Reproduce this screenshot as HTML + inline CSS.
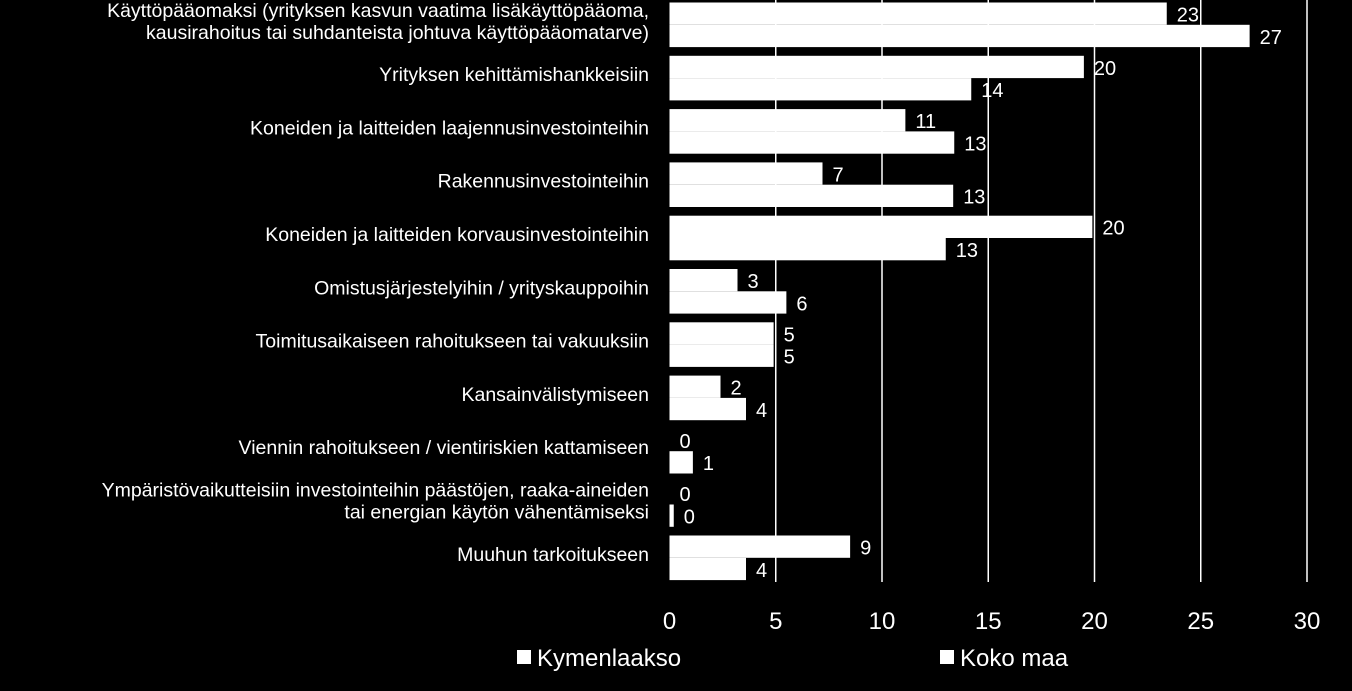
<!DOCTYPE html>
<html><head><meta charset="utf-8"><style>
html,body{margin:0;padding:0;background:#000;}
svg{display:block;font-family:"Liberation Sans",sans-serif;}
</style></head><body>
<svg id="chart" width="1352" height="691"></svg>
<script>
const categories=["Käyttöpääomaksi (yrityksen kasvun vaatima lisäkäyttöpääoma,|kausirahoitus tai suhdanteista johtuva käyttöpääomatarve)","Yrityksen kehittämishankkeisiin","Koneiden ja laitteiden laajennusinvestointeihin","Rakennusinvestointeihin","Koneiden ja laitteiden korvausinvestointeihin","Omistusjärjestelyihin / yrityskauppoihin","Toimitusaikaiseen rahoitukseen tai vakuuksiin","Kansainvälistymiseen","Viennin rahoitukseen / vientiriskien kattamiseen","Ympäristövaikutteisiin investointeihin päästöjen, raaka-aineiden|tai energian käytön vähentämiseksi","Muuhun tarkoitukseen"];
const kymenlaakso=[23.4,19.5,11.1,7.2,19.9,3.2,4.9,2.4,0,0,8.5];
const kokoMaa=[27.3,14.2,13.4,13.35,13.0,5.5,4.9,3.6,1.1,0.2,3.6];
const ticks=[0,5,10,15,20,25,30];
const NS="http://www.w3.org/2000/svg";
const svg=document.getElementById('chart');
const x0=669.5,x1=1307,plotTop=-2,band=53.3,maxV=30;
const xs=v=>x0+(x1-x0)*v/maxV;
function mk(t,a){const e=document.createElementNS(NS,t);for(const k in a)e.setAttribute(k,a[k]);svg.appendChild(e);return e;}
ticks.forEach(t=>{if(t>0){const l=mk('line',{x1:xs(t),x2:xs(t),y1:0,y2:582,stroke:'#fff','stroke-width':1.5});

}
const tx=mk('text',{x:xs(t),y:629,fill:'#fff','font-size':24,'text-anchor':'middle'});tx.textContent=t;

});
categories.forEach((c,i)=>{
 const y=plotTop+i*band+4.5,h=22.3;
 const b1=mk('rect',{x:x0,y:y,width:xs(kymenlaakso[i])-x0,height:h,fill:'#fff'});
 
 
 const b2=mk('rect',{x:x0,y:y+h,width:xs(kokoMaa[i])-x0,height:h,fill:'#fff'});
 
 
 const v1=mk('text',{x:xs(kymenlaakso[i])+10,y:y+19,fill:'#fff','font-size':20});v1.textContent=Math.round(kymenlaakso[i]);
 
 
 const v2=mk('text',{x:xs(kokoMaa[i])+10,y:y+h+19,fill:'#fff','font-size':20});v2.textContent=Math.round(kokoMaa[i]);
 
 
 const lines=c.split('|');
 const cy=y+h+7-(lines.length-1)*11;
 lines.forEach((ln,j)=>{const t=mk('text',{x:649,y:cy+j*22-4,fill:'#fff','font-size':19.5,'text-anchor':'end'});t.textContent=ln;
 
 });
});
[["Kymenlaakso",517],["Koko maa",940]].forEach(([n,x],i)=>{
 const r=mk('rect',{x:x,y:650,width:14,height:14,fill:'#fff'});
 
 
 const t=mk('text',{x:x+20,y:666,fill:'#fff','font-size':24});t.textContent=n;
 
 
});
</script>
</body></html>
